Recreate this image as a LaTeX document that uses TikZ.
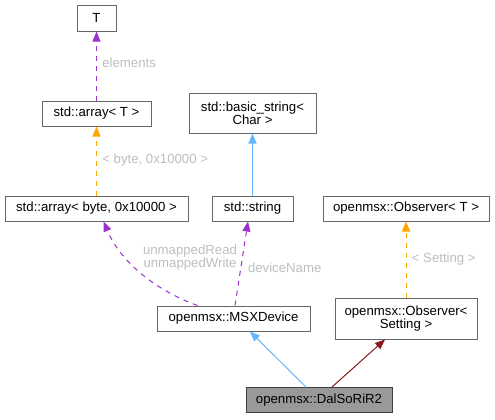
\documentclass[tikz,border=0pt]{standalone}
\usepackage{fontspec}
\setmainfont{Liberation Sans}
\usetikzlibrary{arrows.meta,positioning,calc}
\definecolor{edgepurple}{HTML}{9A32CD}
\definecolor{edgeorange}{HTML}{FFA500}
\definecolor{edgeblue}{HTML}{63B8FF}
\definecolor{edgered}{HTML}{8B1A1A}
\definecolor{lblgrey}{HTML}{BEBEBE}
\definecolor{boxline}{HTML}{666666}

\begin{document}
\begin{tikzpicture}
   [x=0.75pt,y=-0.75pt,
    font=\fontsize{9.9}{9.8}\selectfont,
    cls/.style={rectangle,draw=boxline,fill=white,line width=0.75pt,
      inner sep=0pt,align=center,minimum height=18.75pt},
    cur/.style={cls,draw=black!75,fill=black!40},
    tip/.style={-{Triangle[length=7.5pt,width=6pt]},line width=0.75pt},
    usage/.style={tip,edgepurple,dash pattern=on 3.75pt off 3.75pt},
    tmpl/.style={tip,edgeorange,dash pattern=on 3.75pt off 3.75pt},
    pub/.style={tip,edgeblue},
    priv/.style={tip,edgered},
    lbl/.style={text=lblgrey,inner sep=0pt,align=center}]

\useasboundingbox (0,0) rectangle (495,419);

\node [cls,minimum width=29.25pt,minimum height=19.5pt] (T) at (96.5,18) {T};
\node [cls,minimum width=81.75pt] (arrT) at (96.5,113.5) {std::array< T >};
\node [cls,minimum width=95.25pt,minimum height=30pt] (bstr) at (252.5,113) {std::basic\_string<\\Char >};
\node [cls,minimum width=137.25pt] (arrB) at (96.5,208.5) {std::array< byte, 0x10000 >};
\node [cls,minimum width=60.75pt] (str) at (252.5,208.5) {std::string};
\node [cls,minimum width=124.5pt] (obsT) at (406,208.5) {openmsx::Observer< T >};
\node [cls,minimum width=114.75pt] (msx) at (233.5,318.5) {openmsx::MSXDevice};
\node [cls,minimum width=106.5pt,minimum height=30.75pt] (obsS) at (406,318.5) {openmsx::Observer<\\Setting >};
\node [cur,minimum width=109.5pt] (dal) at (319,400) {openmsx::DalSoRiR2};

\draw [usage] (arrT) -- (T) node [lbl,pos=0.55,right=4pt] {elements};
\draw [tmpl] (arrB) -- (arrT) node [lbl,pos=0.52,right=4pt] {< byte, 0x10000 >};
\draw [pub] (str) -- (bstr);
\draw [tmpl] (obsS) -- (obsT) node [lbl,midway,right=4pt] {< Setting >};
\draw [usage] ($(msx.north)+(-36,0)$) .. controls (160,292) and (122,265) .. ($(arrB.south)+(7,0)$);
\node [lbl] (mapLbl) at (190,258) {unmappedRead\\unmappedWrite};
\draw [usage] ($(msx.north)+(1.5,0)$) -- ($(str.south)+(-4.5,0)$) node [lbl,pos=0.45,right=5pt] {deviceName};
\draw [pub] ($(dal.north)+(-13,0)$) -- ($(msx.south)+(16.5,0)$);
\draw [priv] ($(dal.north)+(13,0)$) -- ($(obsS.south)+(-21,0)$);
\end{tikzpicture}
\end{document}
